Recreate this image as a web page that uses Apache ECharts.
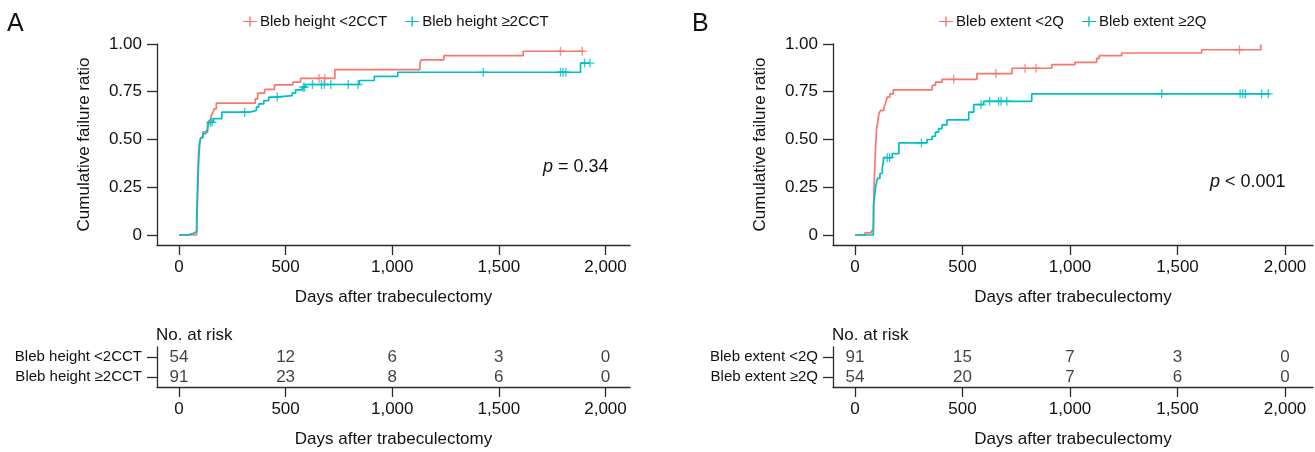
<!DOCTYPE html>
<html><head><meta charset="utf-8">
<script src="https://cdn.jsdelivr.net/npm/echarts@6/dist/echarts.min.js"></script>
<style>html,body{margin:0;padding:0;background:#fff}#c{width:1315px;height:452px}</style>
</head><body><div id="c"></div>
<script>
// ---------- data ----------
const tickDays = [0, 500, 1000, 1500, 2000];
const yTicks = [0, 0.25, 0.5, 0.75, 1];
const namesA = ['Bleb height <2CCT', 'Bleb height \u22652CCT'];
const namesB = ['Bleb extent <2Q', 'Bleb extent \u22652Q'];
const pValueA = '= 0.34';
const pValueB = '< 0.001';

// Panel A: cumulative failure (day, ratio) – value holds from that day on
const kmA_low = [[0,0],[83,0.03],[85,0.1],[87,0.2],[90,0.3],[93,0.4],[97,0.47],[102,0.51],[112,0.54],[123,0.55],[134,0.58],[141,0.6],[151,0.625],[159,0.64],[165,0.66],[175,0.69],[358,0.713],[369,0.743],[402,0.762],[448,0.786],[534,0.8],[570,0.82],[731,0.866],[1130,0.9],[1136,0.917],[1242,0.939],[1614,0.962],[1898,0.962]];
const kmA_high = [[0,0],[41,0.01],[72,0.02],[83,0.08],[86,0.2],[89,0.32],[92,0.42],[96,0.48],[102,0.51],[112,0.53],[123,0.54],[134,0.56],[141,0.59],[162,0.609],[201,0.643],[332,0.652],[363,0.67],[374,0.687],[398,0.704],[421,0.722],[453,0.73],[531,0.743],[547,0.76],[578,0.774],[594,0.788],[846,0.809],[916,0.831],[1026,0.852],[1883,0.9],[1927,0.9]];
const censA_low = [[657,0.82],[684,0.82],[1789,0.962],[1891,0.962]];
const censA_high = [[148,0.59],[155,0.59],[308,0.643],[461,0.722],[583,0.774],[589,0.774],[626,0.788],[668,0.788],[681,0.788],[712,0.788],[794,0.788],[840,0.788],[1427,0.852],[1789,0.852],[1801,0.852],[1814,0.852],[1902,0.9],[1927,0.9]];

// Panel B
const kmB_low = [[0,0],[46,0.011],[76,0.022],[86,0.13],[90,0.3],[95,0.44],[100,0.55],[107,0.6],[111,0.635],[119,0.652],[134,0.666],[142,0.69],[150,0.722],[162,0.739],[178,0.76],[359,0.783],[374,0.8],[405,0.815],[567,0.845],[730,0.873],[915,0.892],[1023,0.904],[1124,0.925],[1136,0.939],[1240,0.953],[1612,0.97],[1887,0.997]];
const kmB_high = [[0,0],[85,0.03],[86,0.08],[87,0.165],[96,0.252],[104,0.296],[116,0.322],[127,0.348],[134,0.405],[173,0.426],[204,0.482],[335,0.5],[359,0.517],[374,0.539],[389,0.557],[405,0.577],[428,0.603],[529,0.643],[552,0.683],[598,0.7],[822,0.739],[1930,0.739]];
const censB_low = [[459,0.815],[655,0.845],[791,0.873],[842,0.873],[1788,0.97]];
const censB_high = [[150,0.405],[161,0.405],[309,0.482],[586,0.683],[626,0.7],[668,0.7],[679,0.7],[706,0.7],[1426,0.739],[1791,0.739],[1803,0.739],[1815,0.739],[1891,0.739],[1922,0.739]];

// Number at risk
const riskDays = [0, 500, 1000, 1500, 2000];
const riskA_low = [54, 12, 6, 3, 0];
const riskA_high = [91, 23, 8, 6, 0];
const riskB_low = [91, 15, 7, 3, 0];
const riskB_high = [54, 20, 7, 6, 0];

// ---------- style ----------
const RED = '#F8766D', TEAL = '#00BFC4';
const FONT = "'Liberation Sans', Arial, Helvetica, sans-serif";
const TXT = '#111', AX = '#2b2b2b';
const plusPath = 'path://M0,4.25H10V5.75H0Z M4.25,0H5.75V10H4.25Z';
const legendIcon = 'path://M0,4.4H14V5.6H0Z M6.3,0H7.7V10H6.3Z';

const chart = echarts.init(document.getElementById('c'), null, {renderer: 'canvas'});
const fmtDay = v => v.toLocaleString('en-US');
const fmtY = v => v === 0 ? '0' : v.toFixed(2);

function xAxisDef(gridIndex, min, max) {
  return {
    type: 'value', gridIndex, min, max,
    name: 'Days after trabeculectomy', nameLocation: 'middle', nameGap: 44,
    nameTextStyle: {fontFamily: FONT, fontSize: 17, color: TXT},
    axisLine: {show: true, onZero: false, lineStyle: {color: AX, width: 1.3}},
    axisTick: {show: true, length: 10, customValues: tickDays, lineStyle: {color: AX, width: 1.3}},
    axisLabel: {customValues: tickDays, formatter: fmtDay, margin: 14, fontFamily: FONT, fontSize: 17, color: TXT},
    splitLine: {show: false}
  };
}
function yAxisKM(gridIndex) {
  return {
    type: 'value', gridIndex, min: -0.0524, max: 1.0,
    name: 'Cumulative failure ratio', nameLocation: 'middle', nameGap: 64, nameRotate: 90,
    nameTextStyle: {fontFamily: FONT, fontSize: 17, color: TXT},
    axisLine: {show: true, onZero: false, lineStyle: {color: AX, width: 1.3}},
    axisTick: {show: true, length: 10, customValues: yTicks, lineStyle: {color: AX, width: 1.3}},
    axisLabel: {customValues: yTicks, formatter: fmtY, margin: 15, fontFamily: FONT, fontSize: 17, color: TXT},
    splitLine: {show: false}
  };
}
function yAxisRisk(gridIndex, names) {
  return {
    type: 'category', gridIndex, data: names, inverse: true,
    axisLine: {show: true, onZero: false, lineStyle: {color: AX, width: 1.3}},
    axisTick: {show: true, alignWithLabel: true, length: 10, lineStyle: {color: AX, width: 1.3}},
    axisLabel: {margin: 15, fontFamily: FONT, fontSize: 15, color: TXT},
    splitLine: {show: false}
  };
}
function lineSeries(name, data, color, xi, yi) {
  return {type: 'line', name, data, step: 'end', xAxisIndex: xi, yAxisIndex: yi,
    showSymbol: false, symbol: 'none', lineStyle: {color, width: 1.7}, itemStyle: {color},
    animation: false, silent: true};
}
function censSeries(name, data, color, xi, yi) {
  return {type: 'scatter', name, data, xAxisIndex: xi, yAxisIndex: yi,
    symbol: plusPath, symbolSize: 9, itemStyle: {color}, animation: false, silent: true, z: 3};
}
function riskSeries(name, row, counts, xi, yi) {
  return {type: 'scatter', name: name + ' risk', xAxisIndex: xi, yAxisIndex: yi,
    data: riskDays.map((d, i) => [d, row, counts[i]]),
    symbolSize: 1, itemStyle: {color: 'rgba(0,0,0,0)'},
    label: {show: true, position: 'inside', formatter: p => String(p.value[2]),
      fontFamily: FONT, fontSize: 17, color: TXT},
    animation: false, silent: true};
}
function legendDef(left, names) {
  return {
    left, top: 9, itemGap: 18, itemWidth: 14, itemHeight: 10, selectedMode: false,
    textStyle: {fontFamily: FONT, fontSize: 15, color: TXT, padding: [0, 0, 0, -2]},
    data: [
      {name: names[0], icon: legendIcon, itemStyle: {color: RED}},
      {name: names[1], icon: legendIcon, itemStyle: {color: TEAL}}
    ]
  };
}

const option = {
  backgroundColor: '#fff',
  animation: false,
  grid: [
    {left: 157, top: 44, width: 473, height: 201},
    {left: 833, top: 44, width: 480, height: 201},
    {left: 157, top: 347, width: 473, height: 40},
    {left: 833, top: 347, width: 480, height: 40}
  ],
  xAxis: [xAxisDef(0, -103, 2115), xAxisDef(1, -102.3, 2130), xAxisDef(2, -103, 2115), xAxisDef(3, -102.3, 2130)],
  yAxis: [yAxisKM(0), yAxisKM(1), yAxisRisk(2, namesA), yAxisRisk(3, namesB)],
  legend: [legendDef(238, namesA), legendDef(934, namesB)],
  series: [
    lineSeries(namesA[0], kmA_low, RED, 0, 0),
    lineSeries(namesA[1], kmA_high, TEAL, 0, 0),
    censSeries(namesA[0], censA_low, RED, 0, 0),
    censSeries(namesA[1], censA_high, TEAL, 0, 0),
    lineSeries(namesB[0], kmB_low, RED, 1, 1),
    lineSeries(namesB[1], kmB_high, TEAL, 1, 1),
    censSeries(namesB[0], censB_low, RED, 1, 1),
    censSeries(namesB[1], censB_high, TEAL, 1, 1),
    riskSeries(namesA[0], namesA[0], riskA_low, 2, 2),
    riskSeries(namesA[1], namesA[1], riskA_high, 2, 2),
    riskSeries(namesB[0], namesB[0], riskB_low, 3, 3),
    riskSeries(namesB[1], namesB[1], riskB_high, 3, 3)
  ],
  graphic: [
    {type: 'text', left: 7, top: 12, style: {text: 'A', fontFamily: FONT, fontSize: 25, fill: TXT}},
    {type: 'text', left: 692, top: 12, style: {text: 'B', fontFamily: FONT, fontSize: 25, fill: TXT}},
    {type: 'text', left: 543, top: 158, style: {text: '{i|p} ' + pValueA, fontFamily: FONT, fontSize: 18, fill: TXT,
      rich: {i: {fontStyle: 'italic', fontFamily: FONT, fontSize: 18, fill: TXT}}}},
    {type: 'text', left: 1210, top: 173, style: {text: '{i|p} ' + pValueB, fontFamily: FONT, fontSize: 18, fill: TXT,
      rich: {i: {fontStyle: 'italic', fontFamily: FONT, fontSize: 18, fill: TXT}}}},
    {type: 'text', left: 156, top: 327, style: {text: 'No. at risk', fontFamily: FONT, fontSize: 17, fill: TXT}},
    {type: 'text', left: 832, top: 327, style: {text: 'No. at risk', fontFamily: FONT, fontSize: 17, fill: TXT}}
  ]
};
chart.setOption(option);
</script>
</body></html>
